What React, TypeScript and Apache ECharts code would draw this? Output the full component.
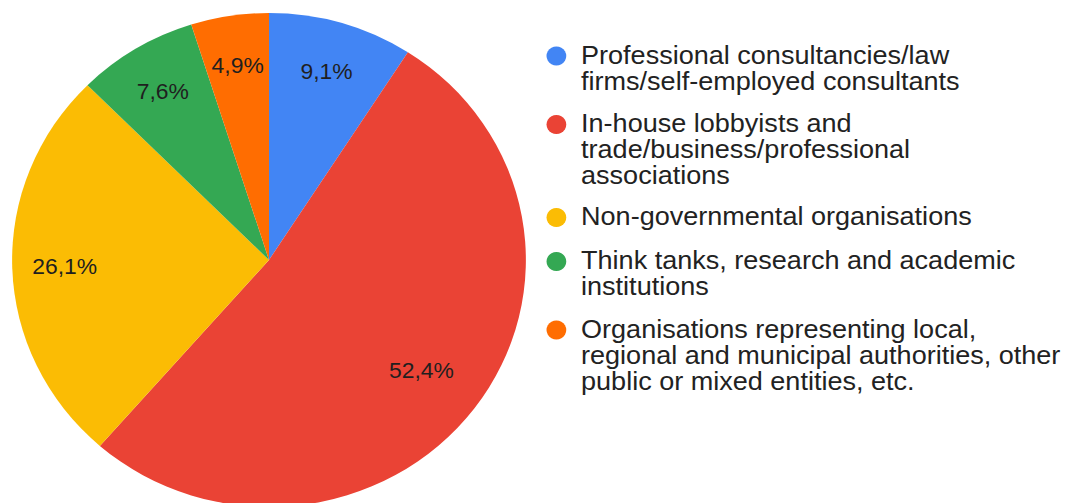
import React, { useEffect, useRef } from "react";
import * as echarts from "echarts";

const categories = [
  "Professional consultancies/law\nfirms/self-employed consultants",
  "In-house lobbyists and\ntrade/business/professional\nassociations",
  "Non-governmental organisations",
  "Think tanks, research and academic\ninstitutions",
  "Organisations representing local,\nregional and municipal authorities, other\npublic or mixed entities, etc.",
];
const shares = [9.1, 52.4, 26.1, 7.6, 4.9];
const colors = ["#4285F4", "#EA4335", "#FBBC04", "#34A853", "#FF6D01"];

const STRETCH = 1.04;
const FULL_W = 1068;
const H = 503;
const W = FULL_W / STRETCH;

const FONT = '"Liberation Sans", Arial, Helvetica, sans-serif';

export default function App() {
  const ref = useRef<HTMLDivElement>(null);
  useEffect(() => {
    if (!ref.current) return;
    const chart = echarts.init(ref.current, undefined, { renderer: "svg" });
    const data = categories.map((name, i) => ({
      name,
      value: shares[i],
      itemStyle: { color: colors[i] },
    }));
    const fmt = (p: any) => String(p.value.toFixed(1)).replace(".", ",") + "%";
    const largest = shares.indexOf(Math.max(...shares));

    // legend built from categories
    const REF_LH = 24.5;
    const LH = 26;
    const GAP = 19.5;
    const legendEls: any[] = [];
    let c = 55;
    categories.forEach((name, i) => {
      const lines = name.split("\n");
      legendEls.push({
        type: "circle",
        shape: { cx: 535, cy: c + 1, r: 9.5 },
        style: { fill: colors[i] },
        silent: true,
      });
      legendEls.push({
        type: "text",
        x: 558.7,
        y: c - LH / 2,
        style: {
          text: name,
          fontSize: 26,
          fontFamily: FONT,
          lineHeight: LH,
          fill: "#222222",
          verticalAlign: "top",
          align: "left",
        },
        silent: true,
      });
      c += lines.length * REF_LH + GAP;
    });

    const labelStyle = {
      position: "inside",
      formatter: fmt,
      fontSize: 22,
      fontFamily: FONT,
      color: "#1f1f1f",
    };
    const labelSeries = (inner: number, pick: (i: number) => boolean) => ({
      type: "pie",
      center: [258.65, 260],
      radius: [inner, 247],
      startAngle: 90,
      clockwise: true,
      silent: true,
      itemStyle: { color: "transparent" },
      label: { show: true, ...labelStyle },
      labelLine: { show: false },
      data: categories.map((name, i) => ({
        name,
        value: shares[i],
        label: { show: pick(i) },
      })),
    });

    chart.setOption({
      animation: false,
      backgroundColor: "#ffffff",
      series: [
        {
          type: "pie",
          center: [258.65, 260],
          radius: [0, 247],
          startAngle: 90,
          clockwise: true,
          silent: true,
          label: { show: false },
          labelLine: { show: false },
          data,
        },
        labelSeries(140, (i) => i !== largest),
        labelSeries(114, (i) => i === largest),
      ],
      graphic: legendEls,
    });
    return () => chart.dispose();
  }, []);
  return (
    <div
      style={{
        position: "fixed",
        left: 0,
        top: 0,
        width: FULL_W,
        height: H,
        overflow: "hidden",
        background: "#fff",
      }}
    >
      <div
        ref={ref}
        style={{
          width: W,
          height: H,
          transform: `scaleX(${STRETCH})`,
          transformOrigin: "0 0",
        }}
      />
    </div>
  );
}
